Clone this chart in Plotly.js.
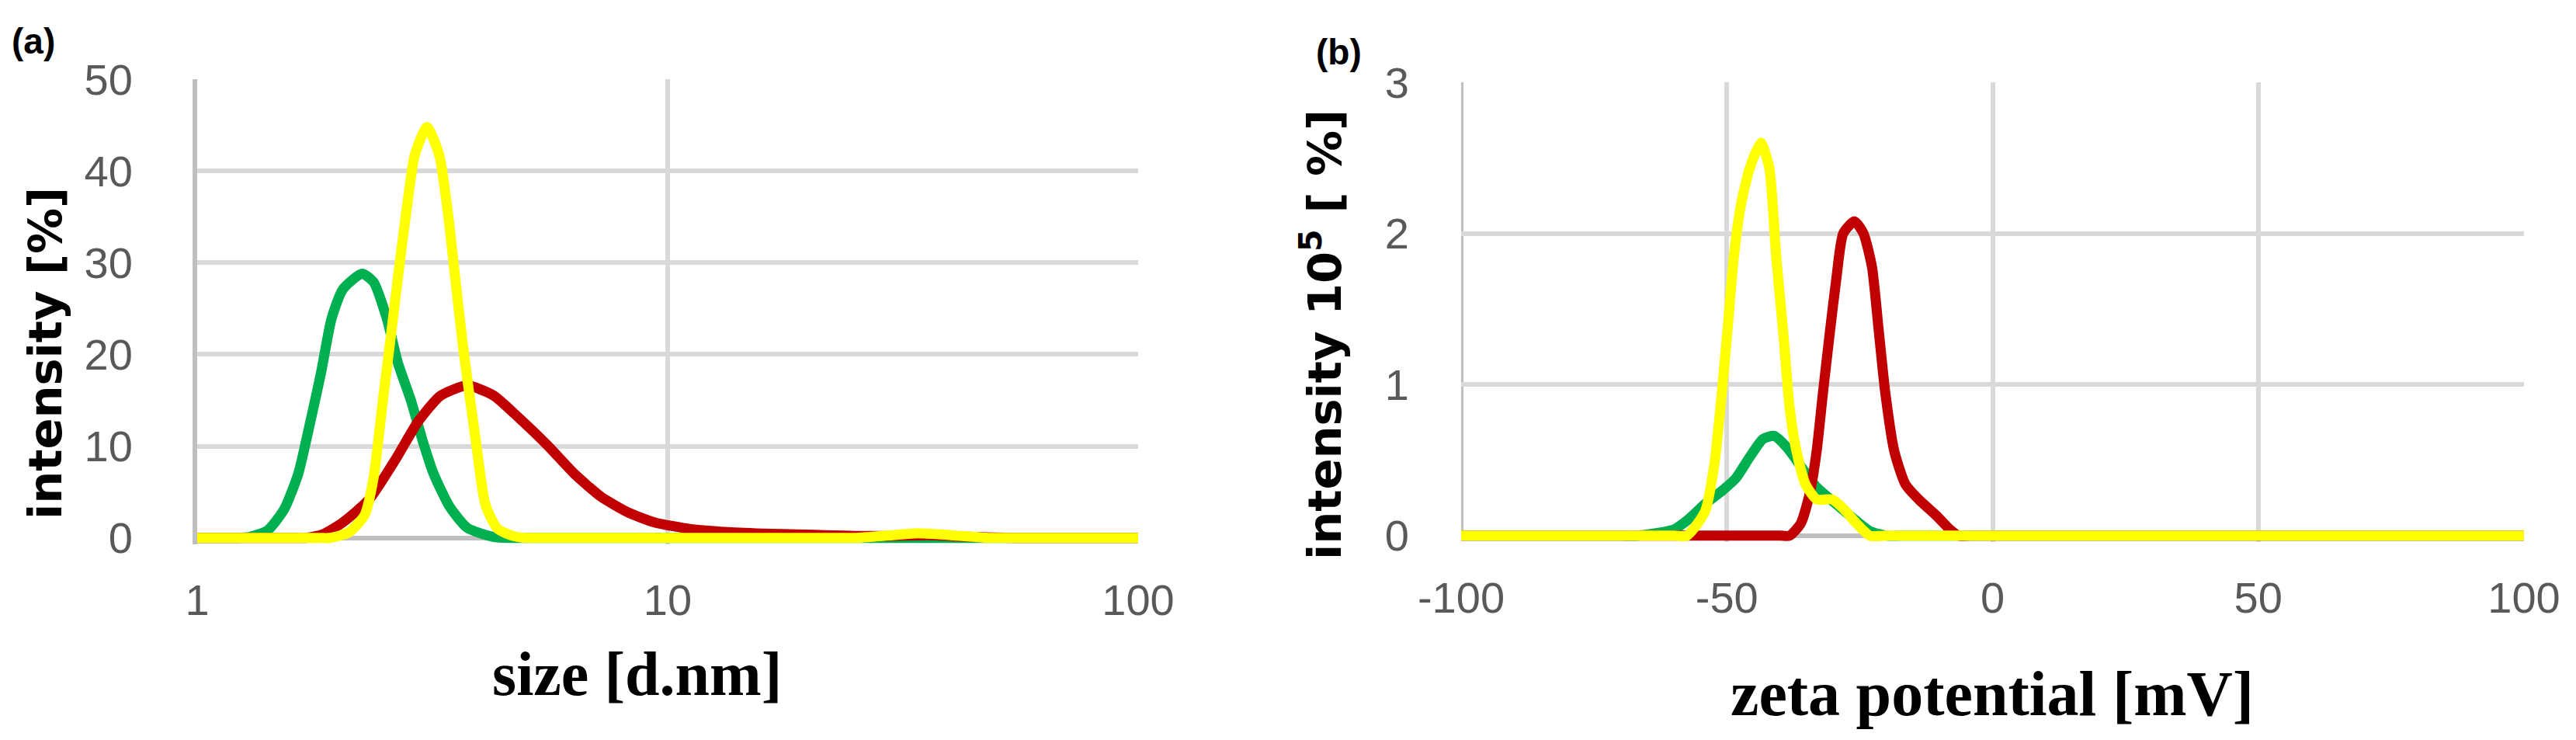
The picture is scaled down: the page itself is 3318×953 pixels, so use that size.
<!DOCTYPE html>
<html>
<head>
<meta charset="utf-8">
<script src="https://cdn.plot.ly/plotly-3.0.1.min.js"></script>
<style>
  body { margin: 0; background: #fff; }
  #plot { width: 3318px; height: 953px; }
</style>
</head>
<body>
<div id="plot"></div>
<script>
// (a) size distribution, log x axis
var sizeGreen = [1, 1.15, 1.22, 1.29, 1.41, 1.53, 1.64, 1.73, 1.83, 1.93, 2.04, 2.24, 2.37, 2.53, 2.67, 2.85, 3.01, 3.18, 3.44, 3.75, 4.27, 5, 5.5, 100];
var intGreenA = [0, 0, 0, 0.1, 0.8, 3.1, 7.0, 12.1, 17.8, 23.9, 27.1, 28.8, 27.9, 23.9, 19.1, 14.9, 10.7, 7.0, 3.4, 1.1, 0.1, 0, 0, 0];

var sizeRed = [1, 1.6, 1.7, 1.85, 2.04, 2.32, 2.65, 2.95, 3.29, 3.75, 4.27, 4.87, 5.55, 6.33, 7.21, 8.22, 9.37, 11.2, 13.9, 21.5, 28, 36, 45, 55, 60, 100];
var intRedA = [0, 0, 0, 0.4, 1.7, 4.2, 8.7, 12.7, 15.5, 16.6, 15.5, 12.9, 10.1, 7.0, 4.5, 2.8, 1.7, 0.96, 0.6, 0.3, 0.2, 0.3, 0.1, 0, 0, 0];

var sizeYellow = [1, 1.8, 1.91, 2.1, 2.27, 2.37, 2.48, 2.58, 2.68, 2.79, 2.90, 3.08, 3.27, 3.41, 3.55, 3.68, 3.90, 4.10, 4.35, 4.70, 5, 5.5, 23, 25, 30, 34, 40, 48, 52, 100];
var intYellowA = [0, 0, 0, 0.6, 2.5, 6.5, 14.9, 22.0, 29.0, 36.0, 41.7, 44.8, 41.7, 35.5, 27.5, 20.5, 11.0, 3.6, 1.0, 0.2, 0, 0, 0, 0, 0.3, 0.5, 0.3, 0, 0, 0];

// (b) zeta potential distribution
var zetaGreen = [-100, -70, -66.7, -60, -57.5, -54.1, -50.8, -48.3, -45.7, -43.2, -41.1, -38.6, -36.1, -33.1, -29.8, -26.4, -23.1, -19.8, -17, 100];
var intGreenB = [0, 0, 0, 0.04, 0.10, 0.21, 0.30, 0.38, 0.52, 0.64, 0.66, 0.58, 0.46, 0.32, 0.22, 0.12, 0.03, 0, 0, 0];

var zetaRed = [-100, -40, -38.2, -36.1, -34.4, -33.1, -31.9, -30.6, -29.4, -28.1, -26.0, -24.3, -22.7, -21.4, -20.2, -18.5, -16.4, -13.9, -10.5, -8.0, -6.4, -4, 100];
var intRedB = [0, 0, 0, 0.08, 0.28, 0.56, 0.95, 1.35, 1.70, 2.0, 2.08, 2.0, 1.78, 1.35, 0.95, 0.56, 0.34, 0.24, 0.13, 0.04, 0, 0, 0];

var zetaYellow = [-100, -60, -57.5, -54.1, -52.4, -51.2, -49.9, -48.7, -47.4, -45.7, -43.6, -42.0, -40.7, -39.4, -38.2, -36.9, -35.2, -33.1, -30.2, -28.1, -25.6, -23.1, -20, 100];
var intYellowB = [0, 0, 0, 0.16, 0.46, 0.85, 1.35, 1.84, 2.18, 2.43, 2.60, 2.43, 1.84, 1.35, 0.85, 0.56, 0.34, 0.24, 0.24, 0.18, 0.08, 0, 0, 0];

var sizeTicks = [1, 10, 100];
var sizeTickText = ["1", "10", "100"];
var zetaTicks = [-100, -50, 0, 50, 100];
var zetaTickText = ["-100", "-50", "0", "50", "100"];

var green = "#00b050", red = "#c00000", yellow = "#ffff00";

function curve(x, y, color, xa, ya) {
  return {
    x: x, y: y, xaxis: xa, yaxis: ya,
    mode: "lines", type: "scatter",
    line: { color: color, width: 13, shape: "spline", smoothing: 0.6 },
    hoverinfo: "skip"
  };
}

var data = [
  curve(sizeGreen, intGreenA, green, "x", "y"),
  curve(sizeRed, intRedA, red, "x", "y"),
  curve(sizeYellow, intYellowA, yellow, "x", "y"),
  curve(zetaGreen, intGreenB, green, "x2", "y2"),
  curve(zetaRed, intRedB, red, "x2", "y2"),
  curve(zetaYellow, intYellowB, yellow, "x2", "y2")
];

var tickFont = { family: "Liberation Sans, Arial, sans-serif", size: 56, color: "#595959" };

var axisCommon = {
  showgrid: true, gridcolor: "#d9d9d9", gridwidth: 6,
  zeroline: false, ticks: "", tickfont: tickFont, fixedrange: true
};

// x axes: no axis line, the grey zero line of y is drawn instead so the
// curves' baselines are not clipped by the plot edge
var layout = {
  width: 3318, height: 953,
  margin: { l: 0, r: 0, t: 0, b: 0 },
  paper_bgcolor: "#fff", plot_bgcolor: "#fff",
  showlegend: false,
  xaxis: Object.assign({}, axisCommon, {
    type: "log", range: [0, 2], domain: [254 / 3318, 1466 / 3318],
    tickvals: sizeTicks, ticktext: sizeTickText, anchor: "y",
    ticklabelstandoff: 34, showline: false
  }),
  yaxis: Object.assign({}, axisCommon, {
    range: [-0.7, 50], tickvals: [0, 10, 20, 30, 40, 50], domain: [252 / 953, 851 / 953], anchor: "x",
    ticklabelstandoff: 66, showline: true, linecolor: "#bfbfbf", linewidth: 6,
    zeroline: true, zerolinecolor: "#bfbfbf", zerolinewidth: 6
  }),
  xaxis2: Object.assign({}, axisCommon, {
    range: [-100, 100], domain: [1882 / 3318, 3251 / 3318],
    tickvals: zetaTicks, ticktext: zetaTickText, anchor: "y2", ticklabelstandoff: 34,
    showline: false
  }),
  yaxis2: Object.assign({}, axisCommon, {
    range: [-0.042, 3], tickvals: [0, 1, 2, 3], domain: [255 / 953, 847 / 953], anchor: "x2",
    ticklabelstandoff: 66, showline: false,
    zeroline: true, zerolinecolor: "#bfbfbf", zerolinewidth: 6
  }),
  shapes: [
    // left axis line of panel (b) at -100, from 0 up to 3
    { type: "line", xref: "x2", yref: "y2", x0: -100, x1: -100, y0: 0, y1: 3,
      line: { color: "#bfbfbf", width: 6 }, layer: "below" }
  ],
  annotations: [
    { text: "<b>(a)</b>", x: 43, y: 53 },
    { text: "<b>(b)</b>", x: 1724, y: 67 },
    { text: "<b>intensity [%]</b>", x: 58, y: 455, textangle: -90,
      font: { family: "DejaVu Sans, Verdana, sans-serif", size: 59, color: "#000" } },
    { text: "<b>intensity 10<sup>5</sup> [ %]</b>", x: 1702, y: 431, textangle: -90,
      font: { family: "DejaVu Sans, Verdana, sans-serif", size: 59, color: "#000" } },
    { text: "<b>size [d.nm]</b>", x: 820, y: 868,
      font: { family: "Liberation Serif, Times New Roman, serif", size: 80, color: "#000" } },
    { text: "<b>zeta potential [mV]</b>", x: 2566, y: 893,
      font: { family: "Liberation Serif, Times New Roman, serif", size: 82, color: "#000" } }
  ].map(function (a) {
    return Object.assign({
      xref: "paper", yref: "paper", showarrow: false,
      xanchor: "center", yanchor: "middle",
      font: { family: "Liberation Sans, Arial, sans-serif", size: 46, color: "#000" }
    }, a, { x: a.x / 3318, y: 1 - a.y / 953 });
  })
};

Plotly.newPlot("plot", data, layout, { staticPlot: true });
</script>
</body>
</html>
